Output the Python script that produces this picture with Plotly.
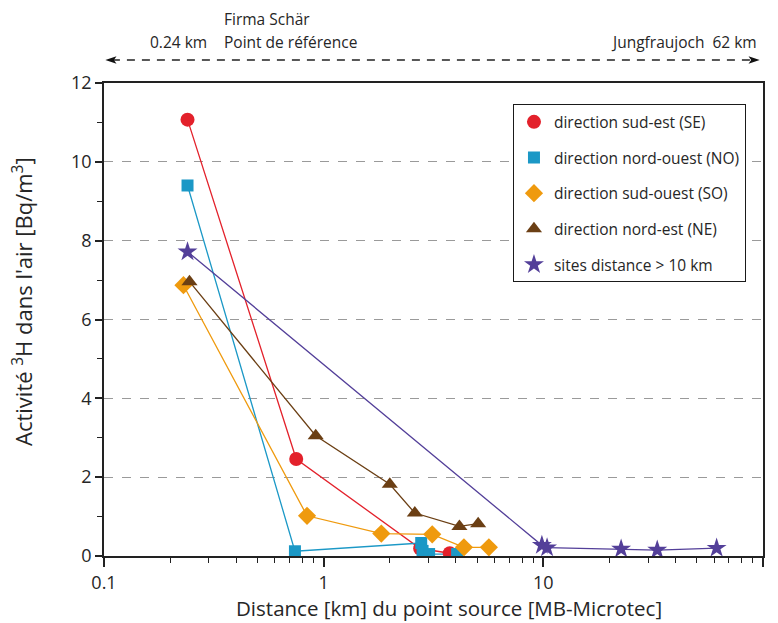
import plotly.graph_objects as go

# Tritium activity in air vs. distance from the source, by direction
se_km = [0.24, 0.75, 2.75, 3.75]
se_act = [11.07, 2.46, 0.19, 0.07]

no_km = [0.24, 0.74, 2.78, 2.82, 3.02, 4.05]
no_act = [9.40, 0.12, 0.33, 0.13, 0.05, 0.05]

so_km = [0.23, 0.84, 1.83, 3.12, 4.35, 5.65]
so_act = [6.87, 1.02, 0.57, 0.55, 0.22, 0.22]

ne_km = [0.245, 0.92, 2.0, 2.6, 4.15, 5.05]
ne_act = [6.96, 3.05, 1.82, 1.09, 0.75, 0.82]

far_km = [0.24, 9.85, 10.4, 22.6, 33.0, 61.5]
far_act = [7.72, 0.27, 0.21, 0.18, 0.15, 0.20]

x_major = [0.1, 1, 10, 100]
x_major_text = ["0.1", "1", "10", "100"]
x_minor = [m * d for d in (0.1, 1, 10) for m in range(2, 10)]

x_title = "Distance [km] du point source [MB-Microtec]"
y_title = "Activité <sup>3</sup>H dans l'air [Bq/m<sup>3</sup>]"

series = [
    ("direction sud-est (SE)", se_km, se_act, "#e3212b", "circle", 14),
    ("direction nord-ouest (NO)", no_km, no_act, "#1b98c6", "square", 12),
    ("direction sud-ouest (SO)", so_km, so_act, "#ef9a0e", "diamond", 14),
    ("direction nord-est (NE)", ne_km, ne_act, "#6b3f14", "triangle-up", 14),
    ("sites distance > 10 km", far_km, far_act, "#533f99", "star", 15),
]

FONT = "Open Sans, Segoe UI, sans-serif"
TXT = "#262626"

fig = go.Figure()

# connecting lines first, markers on top
for name, xs, ys, col, sym, sz in series:
    fig.add_trace(go.Scatter(x=xs, y=ys, mode="lines", line=dict(color=col, width=1.3),
                             showlegend=False, hoverinfo="skip"))
for i, (name, xs, ys, col, sym, sz) in enumerate(series):
    fig.add_trace(go.Scatter(x=xs, y=ys, mode="markers", name=name, legendgroup=f"g{i}",
                             marker=dict(color=col, symbol=sym, size=sz, line=dict(width=0))))

fig.update_layout(
    width=778, height=623,
    margin=dict(l=104, r=15, t=83, b=67),
    paper_bgcolor="white", plot_bgcolor="white",
    font=dict(family=FONT, color=TXT),
    legend=dict(x=0.6206, y=0.955, xanchor="left", yanchor="top",
                bordercolor="#1a1a1a", borderwidth=1, bgcolor="white",
                font=dict(size=15.5, color=TXT), traceorder="grouped", tracegroupgap=12.5,
                itemsizing="trace"),
    xaxis=dict(type="log", range=[-1, 2], tickmode="array", tickvals=x_major, ticktext=x_major_text,
               ticks="outside", ticklen=9, tickwidth=1.5, tickcolor="#222",
               minor=dict(tickmode="array", tickvals=x_minor, ticks="outside", ticklen=5,
                          tickwidth=1.2, tickcolor="#222", showgrid=False),
               showline=True, linewidth=1.8, linecolor="#222", mirror=True,
               showgrid=False, zeroline=False, automargin=False,
               tickfont=dict(size=18, color=TXT)),
    yaxis=dict(range=[0, 12], tickmode="linear", tick0=0, dtick=2,
               ticks="outside", ticklen=7, tickwidth=1.5, tickcolor="#222",
               minor=dict(dtick=1, ticks="outside", ticklen=5, tickwidth=1.2, tickcolor="#222",
                          showgrid=False),
               showline=True, linewidth=1.8, linecolor="#222", mirror=True,
               showgrid=True, gridcolor="#9a9a9a", griddash="dash", gridwidth=1,
               zeroline=False, automargin=False,
               tickfont=dict(size=18, color=TXT)),
)

# axis titles
fig.add_annotation(xref="paper", yref="paper", x=(449 - 104) / 659, y=(556 - 608) / 473,
                   text=x_title, showarrow=False, xanchor="center", yanchor="middle",
                   font=dict(size=20.5, color=TXT, family=FONT))
fig.add_annotation(xref="paper", yref="paper", x=(22 - 104) / 659, y=(556 - 302) / 473,
                   text=y_title, showarrow=False, xanchor="center", yanchor="middle", textangle=-90,
                   font=dict(size=22, color=TXT, family=FONT))

# distance scale above the plot: dashed double arrow with end labels
ay = 1.0486
fig.add_shape(type="line", xref="paper", yref="paper", x0=0.012, x1=0.984, y0=ay, y1=ay,
              line=dict(color="#222", width=1.6, dash="8px,7px"))
fig.add_shape(type="path", xref="paper", yref="paper",
              path=f"M 0.002 {ay} L 0.019 {ay+0.008} L 0.015 {ay} L 0.019 {ay-0.008} Z",
              fillcolor="#111", line=dict(width=0))
fig.add_shape(type="path", xref="paper", yref="paper",
              path=f"M 0.995 {ay} L 0.978 {ay+0.008} L 0.982 {ay} L 0.978 {ay-0.008} Z",
              fillcolor="#111", line=dict(width=0))

ann_font = dict(size=15.5, color=TXT, family=FONT)
fig.add_annotation(xref="paper", yref="paper", x=(222 - 104) / 659, y=(556 - 19) / 473,
                   text="Firma Schär", showarrow=False, xanchor="left", yanchor="middle", font=ann_font)
fig.add_annotation(xref="paper", yref="paper", x=(222 - 104) / 659, y=(556 - 42) / 473,
                   text="Point de référence", showarrow=False, xanchor="left", yanchor="middle", font=ann_font)
fig.add_annotation(xref="paper", yref="paper", x=(209 - 104) / 659, y=(556 - 42) / 473,
                   text="0.24 km", showarrow=False, xanchor="right", yanchor="middle", font=ann_font)
fig.add_annotation(xref="paper", yref="paper", x=(759 - 104) / 659, y=(556 - 42) / 473,
                   text="Jungfraujoch  62 km", showarrow=False, xanchor="right", yanchor="middle", font=ann_font)

fig.write_html("out.html")
